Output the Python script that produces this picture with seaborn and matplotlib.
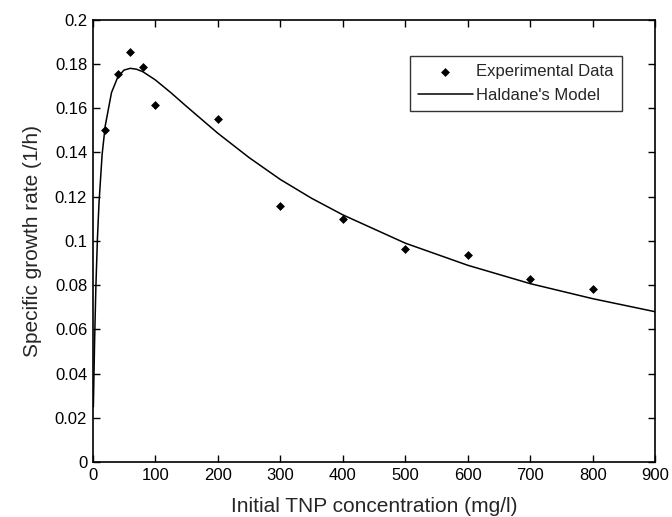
import matplotlib
matplotlib.use("Agg")
import matplotlib.pyplot as plt
import seaborn as sns
import pandas as pd

# Experimental data
exp_conc = [20, 40, 60, 80, 100, 200, 300, 400, 500, 600, 700, 800]
exp_rate = [0.150, 0.1755, 0.1853, 0.1784, 0.1613, 0.1549, 0.1157, 0.1100, 0.0965, 0.0935, 0.0830, 0.0782]

# Haldane's model curve
model_conc = [1, 2, 3, 5, 7.5, 10, 15, 20, 30, 40, 50, 60, 70, 80, 100, 125, 150,
              200, 250, 300, 350, 400, 500, 600, 700, 800, 900]
model_rate = [0.025, 0.040, 0.055, 0.079, 0.101, 0.117, 0.139, 0.152, 0.167, 0.174,
              0.1772, 0.1780, 0.1776, 0.1765, 0.1728, 0.1670, 0.1608, 0.1487, 0.1377,
              0.1278, 0.1193, 0.1118, 0.0990, 0.0890, 0.0807, 0.0739, 0.0680]

x_ticks = [0, 100, 200, 300, 400, 500, 600, 700, 800, 900]
y_ticks = [0, 0.02, 0.04, 0.06, 0.08, 0.1, 0.12, 0.14, 0.16, 0.18, 0.2]
y_tick_labels = ["0", "0.02", "0.04", "0.06", "0.08", "0.1", "0.12", "0.14", "0.16", "0.18", "0.2"]

sns.set_theme(style="white")
plt.rcParams['font.family'] = ['Liberation Sans', 'DejaVu Sans']

exp_df = pd.DataFrame({"conc": exp_conc, "rate": exp_rate})
model_df = pd.DataFrame({"conc": model_conc, "rate": model_rate})

fig = plt.figure(figsize=(6.72, 5.17), dpi=100)
ax = fig.add_axes([0.138, 0.106, 0.837, 0.856])

sns.scatterplot(data=exp_df, x="conc", y="rate", ax=ax, marker="D", s=16,
                color="black", edgecolor="black", linewidth=0.5,
                label="Experimental Data", zorder=3)
sns.lineplot(data=model_df, x="conc", y="rate", ax=ax, color="black",
             linewidth=1.1, label="Haldane's Model", zorder=2)

ax.set_xlim(0, 900)
ax.set_ylim(0, 0.2)
ax.set_xticks(x_ticks)
ax.set_yticks(y_ticks)
ax.set_yticklabels(y_tick_labels)
ax.set_xlabel("Initial TNP concentration (mg/l)", fontsize=15, labelpad=10)
ax.set_ylabel("Specific growth rate (1/h)", fontsize=15, labelpad=9)
ax.tick_params(axis="both", direction="in", length=5, width=1.0, labelsize=12,
               top=True, right=True, bottom=True, left=True, colors="black", pad=4)
for s in ax.spines.values():
    s.set_visible(True)
    s.set_color("black")
    s.set_linewidth(1.2)

leg = ax.legend(loc="upper right", bbox_to_anchor=(0.941, 0.918), borderaxespad=0,
                frameon=True, fancybox=False, edgecolor="black", fontsize=12,
                handlelength=3.3, borderpad=0.5, labelspacing=0.5, handletextpad=0.2)
leg.get_frame().set_linewidth(1.0)

fig.savefig("out.png", dpi=100)
